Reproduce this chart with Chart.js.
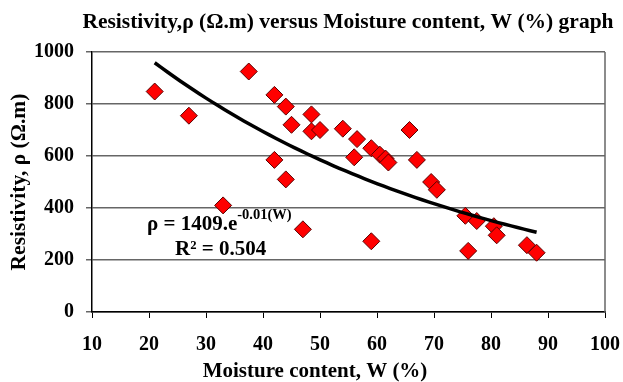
<!DOCTYPE html>
<html>
<head>
<meta charset="utf-8">
<script src="https://cdn.jsdelivr.net/npm/chart.js@4.4.0/dist/chart.umd.min.js"></script>
<style>
  html, body { margin: 0; padding: 0; background: #fff; }
  #wrap { width: 623px; height: 382px; }
</style>
</head>
<body>
<div id="wrap"><canvas id="grafico"></canvas></div>
<script>
// datos
const humedad = [21, 27, 33, 37.5, 42, 44, 45, 42, 44, 47, 48.5, 48.5, 50, 54, 56.5, 56, 59, 59, 60.5, 61.5, 62, 65.7, 67, 69.5, 70.5, 75.5, 76, 77.5, 80.5, 81, 86.3, 88];
const resistividad = [848, 755, 410, 925, 835, 790, 720, 585, 510, 318, 760, 695, 700, 705, 665, 595, 630, 272, 605, 590, 575, 700, 585, 500, 470, 370, 235, 350, 330, 295, 257, 228];
const ticksX = [10, 20, 30, 40, 50, 60, 70, 80, 90, 100];
const ticksY = [0, 200, 400, 600, 800, 1000];
const titulo = "Resistivity,ρ (Ω.m) versus Moisture content, W (%) graph";
const tituloX = "Moisture content, W (%)";
const tituloY = "Resistivity, ρ (Ω.m)";
const ecuacion = ["ρ = 1409.e", "-0.01(W)"];
const r2Texto = "R² = 0.504";

const fuente = "'Liberation Serif', 'Times New Roman', serif";

// linea de tendencia exponencial (minimos cuadrados sobre ln y)
const ajusteExp = (xs, ys) => {
  const n = xs.length;
  let sx = 0, sy = 0, sxx = 0, sxy = 0;
  for (let i = 0; i < n; i++) {
    const ly = Math.log(ys[i]);
    sx += xs[i]; sy += ly; sxx += xs[i] * xs[i]; sxy += xs[i] * ly;
  }
  const b = (n * sxy - sx * sy) / (n * sxx - sx * sx);
  const a = (sy - b * sx) / n;
  return { A: Math.exp(a), k: b };
};
const fit = ajusteExp(humedad, resistividad);
const xMin = Math.min(...humedad), xMax = Math.max(...humedad);
const tendencia = [];
for (let i = 0; i <= 60; i++) {
  const x = xMin + (xMax - xMin) * i / 60;
  tendencia.push({ x: x, y: fit.A * Math.exp(fit.k * x) });
}

const puntos = humedad.map((w, i) => ({ x: w, y: resistividad[i] }));

const extras = {
  id: "extras",
  afterDraw(chart) {
    const { ctx, chartArea } = chart;
    ctx.save();
    // borde derecho
    ctx.strokeStyle = "#666";
    ctx.lineWidth = 1.5;
    ctx.beginPath();
    ctx.moveTo(chartArea.right, chartArea.top);
    ctx.lineTo(chartArea.right, chartArea.bottom);
    ctx.stroke();

    ctx.fillStyle = "#000";
    ctx.textBaseline = "alphabetic";
    // titulo principal
    ctx.textAlign = "center";
    ctx.font = "bold 21.5px " + fuente;
    ctx.fillText(titulo, 348, 28);
    // titulo eje x
    ctx.font = "bold 21px " + fuente;
    ctx.fillText(tituloX, 315, 377);

    // ecuacion
    ctx.textAlign = "left";
    ctx.font = "bold 21px " + fuente;
    ctx.fillText(ecuacion[0], 147, 230);
    const w0 = ctx.measureText(ecuacion[0]).width;
    ctx.font = "bold 14.5px " + fuente;
    ctx.fillText(ecuacion[1], 147 + w0, 219);
    ctx.font = "bold 21px " + fuente;
    ctx.fillText(r2Texto, 175, 255);
    ctx.restore();
  },
};

new Chart(document.getElementById("grafico"), {
  type: "scatter",
  data: {
    datasets: [
      {
        label: "Resistividad",
        data: puntos,
        pointStyle: "rectRot",
        pointRadius: 8.5,
        pointHoverRadius: 8.5,
        backgroundColor: "#ff0000",
        borderColor: "#5a0000",
        borderWidth: 1,
        order: 2,
      },
      {
        type: "line",
        label: "Tendencia",
        data: tendencia,
        borderColor: "#000",
        borderWidth: 3.5,
        pointRadius: 0,
        fill: false,
        tension: 0,
        order: 1,
      },
    ],
  },
  options: {
    responsive: true,
    maintainAspectRatio: false,
    animation: false,
    layout: { padding: { left: 0, right: 18, top: 52, bottom: 0 } },
    scales: {
      x: {
        type: "linear",
        min: 10,
        max: 100,
        afterBuildTicks: (s) => { s.ticks = ticksX.map((v) => ({ value: v })); },
        afterFit: (s) => {
          s.height = 70;
          s.paddingLeft = 0;
          s.paddingRight = 0;
        },
        ticks: {
          color: "#000",
          font: { family: fuente, size: 20, weight: "bold" },
          padding: 15,
          callback: (v) => String(v),
        },
        grid: { drawOnChartArea: false, color: "#000", tickLength: 6 },
        border: { color: "#000", width: 1.5 },
      },
      y: {
        type: "linear",
        min: 0,
        max: 1000,
        afterBuildTicks: (s) => { s.ticks = ticksY.map((v) => ({ value: v })); },
        afterFit: (s) => { s.width = 92; },
        ticks: {
          color: "#000",
          font: { family: fuente, size: 20, weight: "bold" },
          padding: 12,
          callback: (v) => String(v),
        },
        grid: { color: "#666", lineWidth: 1.5, tickLength: 6 },
        border: { color: "#000", width: 1.5 },
        title: {
          display: true,
          text: tituloY,
          color: "#000",
          font: { family: fuente, size: 21.5, weight: "bold" },
          padding: { top: 7, bottom: 0 },
        },
      },
    },
    plugins: {
      legend: { display: false },
      tooltip: { enabled: false },
      title: { display: false },
    },
  },
  plugins: [extras],
});
</script>
</body>
</html>
